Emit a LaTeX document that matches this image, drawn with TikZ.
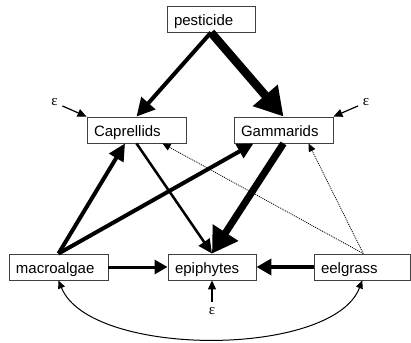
\documentclass[tikz,border=0pt]{standalone}
\usepackage{fontspec}
\setmainfont{Liberation Sans}
\newfontfamily\greekserif{Liberation Serif}
\usetikzlibrary{arrows.meta,calc}
\begin{document}
\begin{tikzpicture}[x=1pt,y=-1pt,
  box/.style={draw=black!75, line width=0.9pt, rectangle, minimum height=26pt,
    inner xsep=7pt, inner ysep=0pt, text height=14pt, text depth=1pt,
    align=left, font=\fontsize{15}{18}\selectfont},
  eps/.style={font=\greekserif\fontsize{15}{18}\selectfont, inner sep=0pt},
  arr/.style n args={3}{line width=#1, -{Triangle[length=#2, width=#3]}},
  dots/.style={line width=0.8pt, dash pattern=on 1pt off 1pt,
    -{Triangle[length=8pt, width=7pt]}},
  small/.style={line width=1.2pt, -{Triangle[length=9pt, width=8pt]}},
  cov/.style={line width=1pt, {Triangle[length=8pt, width=7pt]}-{Triangle[length=8pt, width=7pt]}}
]
\useasboundingbox (0,0) rectangle (411,342);

% variables
\node[box, text width=74pt] (pest) at (211,19) {pesticide};
\node[box, text width=85pt] (cap) at (136.5,130) {Caprellids};
\node[box, text width=85pt] (gam) at (283.5,130) {Gammarids};
\node[box, text width=85pt] (mac) at (58.5,267) {macroalgae};
\node[box, text width=74pt] (epi) at (212,267) {epiphytes};
\node[box, text width=82.5pt] (eel) at (362.25,267) {eelgrass};

% error terms
\node[eps] (e1) at (54.5,102.5) {ε};
\node[eps] (e2) at (366,102.5) {ε};
\node[eps] (e3) at (212,311) {ε};

% paths
\draw[arr={4pt}{18pt}{18pt}] (pest.south) -- (cap.north);
\draw[arr={8.5pt}{28pt}{31pt}] (pest.south) -- (gam.north);
\draw[arr={4pt}{17pt}{16pt}] (mac.north) -- ($(cap.south)+(-11.5,0)$);
\draw[arr={4pt}{16pt}{15pt}] (mac.north) -- ($(gam.south)+(-30,0)$);
\draw[arr={2.5pt}{14pt}{13pt}] (cap.south) -- (epi.north);
\draw[arr={7pt}{25pt}{29pt}] (gam.south) -- (epi.north);
\draw[arr={3pt}{13pt}{14pt}] (mac.east) -- (epi.west);
\draw[arr={4pt}{15pt}{16pt}] (eel.west) -- (epi.east);
\draw[dots] ($(eel.north)+(1,0)$) -- ($(cap.south)+(26,0)$);
\draw[dots] ($(eel.north)+(1,0)$) -- ($(gam.south)+(25,0)$);

% error arrows
\draw[small, shorten <=5pt] (e1) -- (cap.north west);
\draw[small, shorten <=5pt] (e2) -- (gam.north east);
\draw[small, shorten <=5pt] (e3) -- (epi.south);

% correlation between macroalgae and eelgrass
\draw[cov] (mac.south) .. controls (90,358) and (333,358) .. (eel.south);
\end{tikzpicture}
\end{document}
